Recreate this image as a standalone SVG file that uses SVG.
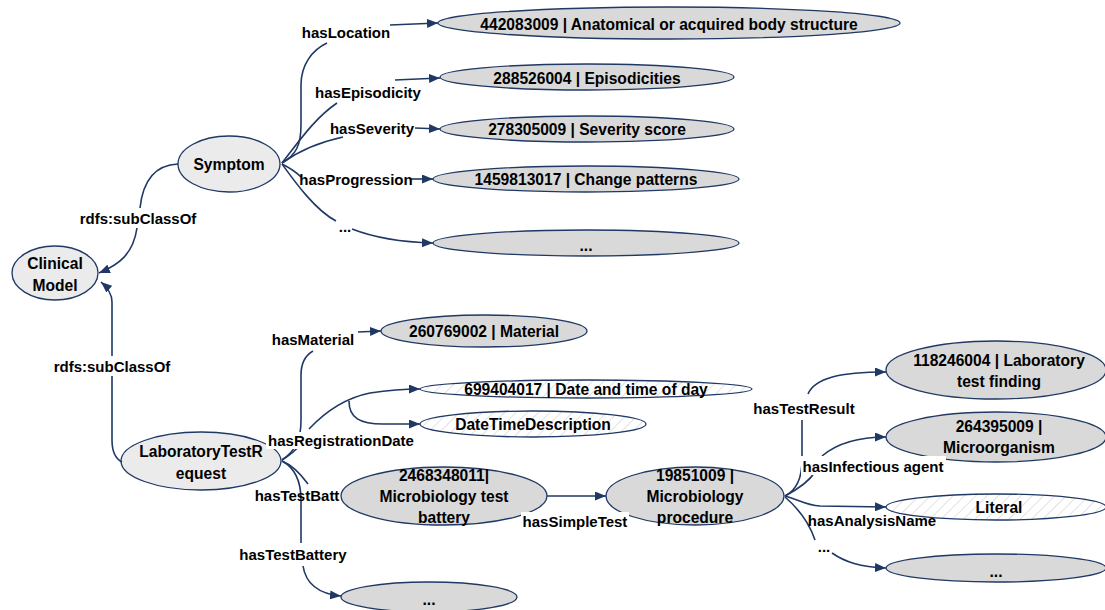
<svg xmlns="http://www.w3.org/2000/svg" width="1105" height="610" viewBox="0 0 1105 610">
  <defs>
    <marker id="arrow" markerUnits="userSpaceOnUse" markerWidth="11" markerHeight="9" refX="11" refY="4.5" orient="auto">
      <path d="M0,0 L11,4.5 L0,9 z" fill="#1f3864"/>
    </marker>
    <pattern id="hatch" patternUnits="userSpaceOnUse" width="8" height="8" patternTransform="rotate(45)">
      <rect width="8" height="8" fill="#ffffff"/>
      <line x1="0" y1="0" x2="0" y2="8" stroke="#cfcfcf" stroke-width="1.2"/>
    </pattern>
    <style>
      .cls { fill: #ebebeb; stroke: #1f3864; stroke-width: 1.3; }
      .val { fill: #d9d9d9; stroke: #1f3864; stroke-width: 1.3; }
      .lit { fill: url(#hatch); stroke: #1f3864; stroke-width: 1.3; }
      .edge { fill: none; stroke: #1f3864; stroke-width: 1.6; }
      .arr { marker-end: url(#arrow); }
      text { font-family: "Liberation Sans", Arial, sans-serif; font-weight: bold; font-size: 15px; fill: #000000; text-anchor: middle; dominant-baseline: central; }
      g.node text { font-size: 15.6px; }
      .bg { fill: #ffffff; }
    </style>
  </defs>

  <!-- class and value nodes -->
  <g id="clinical-model" class="node">
    <ellipse class="cls" cx="55" cy="273" rx="43" ry="27"/>
    <text x="55" y="263">Clinical</text>
    <text x="55" y="285">Model</text>
  </g>
  <g id="symptom" class="node">
    <ellipse class="cls" cx="229" cy="164" rx="51" ry="28"/>
    <text x="229" y="164">Symptom</text>
  </g>
  <g id="body-structure" class="node">
    <ellipse class="val" cx="669" cy="23" rx="231" ry="16"/>
    <text x="669" y="24">442083009 | Anatomical or acquired body structure</text>
  </g>
  <g id="episodicities" class="node">
    <ellipse class="val" cx="587" cy="77" rx="147" ry="13"/>
    <text x="587" y="78">288526004 | Episodicities</text>
  </g>
  <g id="severity-score" class="node">
    <ellipse class="val" cx="587" cy="129" rx="147" ry="13"/>
    <text x="587" y="129">278305009 | Severity score</text>
  </g>
  <g id="change-patterns" class="node">
    <ellipse class="val" cx="586" cy="179" rx="153" ry="13"/>
    <text x="586" y="179">1459813017 | Change patterns</text>
  </g>
  <g id="symptom-more" class="node">
    <ellipse class="val" cx="586" cy="243" rx="153" ry="13"/>
    <text x="586" y="245">...</text>
  </g>
  <g id="lab-test-request" class="node">
    <ellipse class="cls" cx="201" cy="461" rx="80" ry="29"/>
    <text x="201" y="451">LaboratoryTestR</text>
    <text x="201" y="473">equest</text>
  </g>
  <g id="material" class="node">
    <ellipse class="val" cx="484" cy="331" rx="103" ry="16"/>
    <text x="484" y="331">260769002 | Material</text>
  </g>
  <g id="date-time-of-day" class="node">
    <ellipse class="lit" cx="586" cy="389" rx="166" ry="9"/>
    <text x="586" y="389">699404017 | Date and time of day</text>
  </g>
  <g id="date-time-description" class="node">
    <ellipse class="lit" cx="533" cy="424" rx="113" ry="13"/>
    <text x="533" y="424">DateTimeDescription</text>
  </g>
  <g id="microbiology-battery" class="node">
    <ellipse class="val" cx="444" cy="496" rx="103" ry="29"/>
    <text x="444" y="475">2468348011|</text>
    <text x="444" y="496">Microbiology test</text>
    <text x="444" y="517">battery</text>
  </g>
  <g id="microbiology-procedure" class="node">
    <ellipse class="val" cx="695" cy="496" rx="89" ry="29"/>
    <text x="695" y="475">19851009 |</text>
    <text x="695" y="496">Microbiology</text>
    <text x="695" y="517">procedure</text>
  </g>
  <g id="lab-test-finding" class="node">
    <ellipse class="val" cx="996" cy="370" rx="110" ry="29"/>
    <text x="999" y="360">118246004 | Laboratory</text>
    <text x="999" y="381">test finding</text>
  </g>
  <g id="microorganism" class="node">
    <ellipse class="val" cx="996" cy="437" rx="110" ry="25"/>
    <text x="999" y="426">264395009 |</text>
    <text x="999" y="447">Microorganism</text>
  </g>
  <g id="literal" class="node">
    <ellipse class="lit" cx="996" cy="507" rx="110" ry="13"/>
    <text x="999" y="507">Literal</text>
  </g>
  <g id="procedure-more" class="node">
    <ellipse class="val" cx="996" cy="568" rx="110" ry="14"/>
    <text x="996" y="571">...</text>
  </g>
  <g id="request-more" class="node">
    <ellipse class="val" cx="429" cy="597" rx="88" ry="15"/>
    <text x="429" y="599">...</text>
  </g>

  <!-- connectors with their property labels -->
  <g id="connectors">
    <!-- Symptom properties -->
    <path class="edge" d="M282,163 C296,155 301,145 301,125 L301,85 C301,65 312,50 327,43"/>
    <path class="edge arr" d="M390,25 L438,23"/>
    <path class="edge" d="M282,163 C300,140 315,118 337,103"/>
    <path class="edge arr" d="M395,80 L440,78"/>
    <path class="edge" d="M282,163 C300,150 320,142 343,137"/>
    <path class="edge arr" d="M415,128 L440,129"/>
    <path class="edge" d="M282,164 C290,168 296,172 301,177"/>
    <path class="edge arr" d="M411,179 L433,179"/>
    <path class="edge" d="M282,164 C295,182 315,210 336,221"/>
    <path class="edge arr" d="M352,229 C370,236 395,242 433,243"/>

    <!-- subclass links -->
    <path class="edge" d="M178,164 C155,165 143,180 140,208"/>
    <path class="edge arr" d="M137,228 C133,255 118,265 99,273"/>
    <path class="edge" d="M122,462 C114,458 112,450 112,440 L112,376"/>
    <path class="edge arr" d="M112,356 L112,302 C112,294 108,288 101,282"/>

    <!-- LaboratoryTestRequest properties -->
    <path class="edge" d="M282,460 C296,450 301,440 301,420 L301,375 C301,362 306,355 313,351"/>
    <path class="edge arr" d="M358,332 L381,331"/>
    <path class="edge" d="M282,460 C290,455 295,451 299,446"/>
    <path class="edge arr" d="M309,429 C325,412 345,398 370,393 C390,390 405,389 420,389"/>
    <path class="edge arr" d="M349,401 C349,418 360,424 383,424 L420,424"/>
    <path class="edge" d="M282,461 C292,465 300,473 308,484"/>
    <path class="edge" d="M282,461 C295,468 301,480 301,500 L301,543"/>
    <path class="edge arr" d="M303,566 C306,585 320,594 341,596"/>

    <!-- battery to procedure -->
    <path class="edge arr" d="M547,496 L606,496"/>

    <!-- Microbiology procedure properties -->
    <path class="edge" d="M785,496 C797,490 802,478 802,460 L802,420"/>
    <path class="edge arr" d="M808,394 C815,378 840,372 886,372"/>
    <path class="edge" d="M785,496 C800,488 810,480 815,472"/>
    <path class="edge arr" d="M822,456 C835,445 855,437 886,437"/>
    <path class="edge arr" d="M785,496 C800,500 805,505 820,506 L886,507"/>
    <path class="edge" d="M785,497 C800,510 810,525 815,540"/>
    <path class="edge arr" d="M832,553 C845,562 860,567 886,568"/>

    <!-- property labels -->
    <text x="346" y="32">hasLocation</text>
    <text x="368" y="92">hasEpisodicity</text>
    <text x="372" y="128">hasSeverity</text>
    <text x="356" y="179">hasProgression</text>
    <text x="345" y="226">...</text>
    <text x="138" y="218">rdfs:subClassOf</text>
    <text x="112" y="366">rdfs:subClassOf</text>
    <text x="313" y="339">hasMaterial</text>
    <rect class="bg" x="266" y="432" width="150" height="17"/>
    <text x="341" y="440">hasRegistrationDate</text>
    <text x="297" y="495">hasTestBatt</text>
    <text x="293" y="554">hasTestBattery</text>
    <rect class="bg" x="521" y="512" width="108" height="18"/>
    <text x="575" y="521">hasSimpleTest</text>
    <text x="804" y="408">hasTestResult</text>
    <rect class="bg" x="801" y="456" width="145" height="19"/>
    <text x="873" y="466">hasInfectious agent</text>
    <text x="872" y="520">hasAnalysisName</text>
    <text x="824" y="546">...</text>
  </g>
</svg>
